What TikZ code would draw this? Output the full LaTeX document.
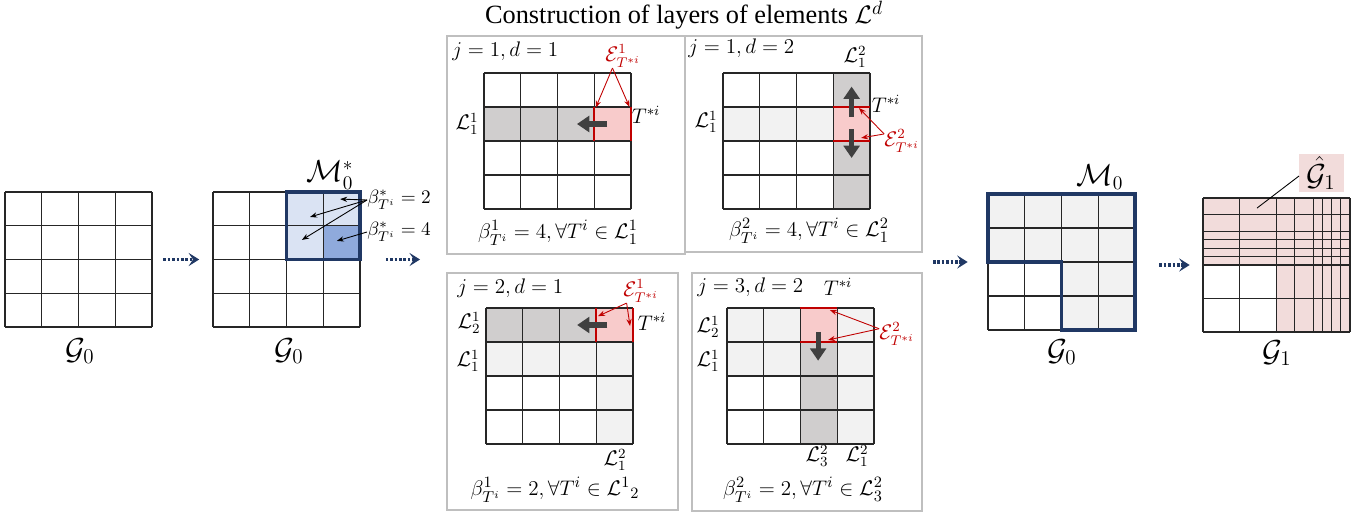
\documentclass[tikz,border=0pt]{standalone}
\usepackage{amsmath,amssymb}
\usepackage{fontspec}
\setmainfont{Liberation Serif}
\usepackage{tikz}
\usetikzlibrary{
  arrows.meta,
  positioning,
  calc
}
\definecolor{navy}{RGB}{32,56,100}
\definecolor{cellgray}{RGB}{208,206,206}
\definecolor{cellpale}{RGB}{242,242,242}
\definecolor{cellpink}{RGB}{248,203,203}
\definecolor{gridpink}{RGB}{242,220,219}
\definecolor{bluepale}{RGB}{218,227,243}
\definecolor{bluemid}{RGB}{143,170,220}
\definecolor{errred}{RGB}{192,0,0}
\definecolor{pushgray}{RGB}{64,64,64}
\definecolor{boxgray}{RGB}{191,191,191}

\begin{document}
\begin{tikzpicture}[x=0.02cm, y=-0.02cm,
  gl/.style={draw=black!85, line width=0.6pt},
  panel/.style={draw=boxgray, line width=0.9pt},
  gridbox/.style={minimum width=2.94cm, minimum height=2.7cm, inner sep=0pt},
  flow/.style={draw=navy, line width=2.2pt, dash pattern=on 1.5pt off 1pt, -{Stealth[length=6pt, width=7.5pt, inset=2.5pt]}},
  push/.style={draw=pushgray, line width=3pt, -{Triangle[length=7pt, width=9pt]}},
  redge/.style={draw=errred, line width=1.4pt},
  rptr/.style={draw=errred, line width=0.5pt, -{Stealth[length=4pt, width=3pt]}},
  bptr/.style={draw=black, line width=0.5pt, -{Stealth[length=4pt, width=3pt]}},
  lbl/.style={inner sep=0pt, font=\fontsize{12}{14}\selectfont},
  small/.style={inner sep=0pt, font=\fontsize{11}{13}\selectfont},
  formula/.style={inner sep=0pt, font=\fontsize{13}{15}\selectfont},
  mlbl/.style={inner sep=0pt, font=\fontsize{16}{18}\selectfont},
  big/.style={inner sep=0pt, font=\fontsize{18}{20}\selectfont}
]
  \useasboundingbox (0,0) rectangle (1368,518);

  % initial grid
  \begin{scope}[shift={(5,192)}, x=0.735cm, y=-0.675cm]
    \foreach \k in {0,...,4} {\draw[gl] (\k,0) -- (\k,4); \draw[gl] (0,\k) -- (4,\k);}
  \end{scope}
  \node[gridbox] (gA) at (78.5,259.5) {};
  \node[big] (gAl) at (80,351) {$\mathcal{G}_0$};

  % grid with M0*
  \begin{scope}[shift={(213,192)}, x=0.735cm, y=-0.675cm]
    \fill[bluepale] (2,0) rectangle (4,2);
    \fill[bluemid] (3,1) rectangle (4,2);
    \foreach \k in {0,...,4} {\draw[gl] (\k,0) -- (\k,4); \draw[gl] (0,\k) -- (4,\k);}
    \draw[navy, line width=2pt] (2,0) rectangle (4,2);
    \coordinate (bc1) at (3.46,0.21);
    \coordinate (bc2) at (2.64,0.74);
    \coordinate (bc3) at (2.42,1.42);
    \coordinate (bc4) at (3.37,1.45);
  \end{scope}
  \node[gridbox] (gB) at (286,259.5) {};
  \node[big] (gBl) at (289,351) {$\mathcal{G}_0$};
  \node[mlbl] (mstar) at (330,175) {$\mathcal{M}^{*}_{0}$};
  \node[small, anchor=west] (bt2) at (367,200) {$\beta^{*}_{T^i}=2$};
  \node[small, anchor=west] (bt4) at (367,232) {$\beta^{*}_{T^i}=4$};
  \draw[bptr] (bt2.west) -- (bc1);
  \draw[bptr] (bt2.west) -- (bc2);
  \draw[bptr] (bt2.west) -- (bc3);
  \draw[bptr] (bt4.west) -- (bc4);

  % layers
  \node[font=\fontsize{15}{18}\selectfont, inner sep=0pt] (title) at (684,15) {Construction of layers of elements $\mathcal{L}^d$};
  \draw[panel] (447,36) rectangle (685,254);
  \draw[panel] (685,36) rectangle (922,252);
  \draw[panel] (447,273) rectangle (678,510);
  \draw[panel] (692,273) rectangle (922,511);
  \coordinate (pin) at (447,259.5);
  \coordinate (pout) at (922,262);

  % j=1, d=1
  \begin{scope}[shift={(484,73)}, x=0.735cm, y=-0.68cm]
    \fill[cellgray] (0,1) rectangle (3,2);
    \fill[cellpink] (3,1) rectangle (4,2);
    \foreach \k in {0,...,4} {\draw[gl] (\k,0) -- (\k,4); \draw[gl] (0,\k) -- (4,\k);}
    \draw[redge] (3,1) -- (3,2) (4,1) -- (4,2);
    \draw[push] (3.35,1.5) -- (2.53,1.5);
    \coordinate (ea1) at (3.04,1.02);
    \coordinate (ea2) at (3.96,1.0);
  \end{scope}
  \node[lbl, anchor=west] (ja) at (452,51) {$j=1,d=1$};
  \node[lbl, text=errred] (epsa) at (623,56) {$\mathcal{E}^{1}_{T^{*i}}$};
  \draw[rptr] ([xshift=-6pt]epsa.south) -- (ea1);
  \draw[rptr] ([xshift=-6pt]epsa.south) -- (ea2);
  \node[lbl] (la) at (467,124) {$\mathcal{L}^{1}_{1}$};
  \node[lbl] (ta) at (646,115) {$T^{*i}$};
  \node[formula] (fa) at (558,233) {$\beta^{1}_{T^i}=4,\forall T^i\in\mathcal{L}^{1}_{1}$};

  % j=1, d=2
  \begin{scope}[shift={(723,73)}, x=0.735cm, y=-0.68cm]
    \fill[cellgray] (3,0) rectangle (4,4);
    \fill[cellpale] (0,1) rectangle (3,2);
    \fill[cellpink] (3,1) rectangle (4,2);
    \foreach \k in {0,...,4} {\draw[gl] (\k,0) -- (\k,4); \draw[gl] (0,\k) -- (4,\k);}
    \draw[redge] (3,1) -- (4,1) (3,2) -- (4,2);
    \draw[push] (3.5,1.28) -- (3.5,0.4);
    \draw[push] (3.5,1.65) -- (3.5,2.5);
    \coordinate (eb1) at (3.7,1.03);
    \coordinate (eb2) at (3.76,1.91);
  \end{scope}
  \node[lbl, anchor=west] (jb) at (688,48) {$j=1,d=2$};
  \node[lbl, text=errred] (epsb) at (902,141) {$\mathcal{E}^{2}_{T^{*i}}$};
  \draw[rptr] ([yshift=4pt]epsb.west) -- (eb1);
  \draw[rptr] ([yshift=4pt]epsb.west) -- (eb2);
  \node[lbl] (lb2) at (855,57) {$\mathcal{L}^{2}_{1}$};
  \node[lbl] (lb1) at (706,122) {$\mathcal{L}^{1}_{1}$};
  \node[lbl] (tb) at (886,104) {$T^{*i}$};
  \node[formula] (fb) at (809,231) {$\beta^{2}_{T^i}=4,\forall T^i\in\mathcal{L}^{2}_{1}$};

  % j=2, d=1
  \begin{scope}[shift={(486,308)}, x=0.735cm, y=-0.68cm]
    \fill[cellgray] (0,0) rectangle (3,1);
    \fill[cellpink] (3,0) rectangle (4,1);
    \fill[cellpale] (0,1) rectangle (4,2);
    \fill[cellpale] (3,2) rectangle (4,4);
    \foreach \k in {0,...,4} {\draw[gl] (\k,0) -- (\k,4); \draw[gl] (0,\k) -- (4,\k);}
    \draw[redge] (3,0) -- (3,1) (4,0) -- (4,1);
    \draw[push] (3.3,0.5) -- (2.48,0.5);
    \coordinate (ec1) at (3.05,0.24);
    \coordinate (ec2) at (3.92,0.53);
  \end{scope}
  \node[lbl, anchor=west] (jc) at (457,288) {$j=2,d=1$};
  \node[lbl, text=errred] (epsc) at (641,291) {$\mathcal{E}^{1}_{T^{*i}}$};
  \draw[rptr] ([xshift=2pt]epsc.south west) -- (ec1);
  \draw[rptr] ([xshift=2pt]epsc.south west) -- (ec2);
  \node[lbl] (lc2) at (469,323) {$\mathcal{L}^{1}_{2}$};
  \node[lbl] (lc1) at (468,361) {$\mathcal{L}^{1}_{1}$};
  \node[lbl] (lc3) at (615,460) {$\mathcal{L}^{2}_{1}$};
  \node[lbl] (tc) at (652,322) {$T^{*i}$};
  \node[formula] (fc) at (555,490) {$\beta^{1}_{T^i}=2,\forall T^i\in\mathcal{L}^{1}{}_{2}$};

  % j=3, d=2
  \begin{scope}[shift={(727,308)}, x=0.735cm, y=-0.68cm]
    \fill[cellpale] (0,0) rectangle (2,2);
    \fill[cellpale] (3,0) rectangle (4,4);
    \fill[cellgray] (2,1) rectangle (3,4);
    \fill[cellpink] (2,0) rectangle (3,1);
    \foreach \k in {0,...,4} {\draw[gl] (\k,0) -- (\k,4); \draw[gl] (0,\k) -- (4,\k);}
    \draw[redge] (2,0) -- (3,0) (2,1) -- (3,1);
    \draw[push] (2.48,0.7) -- (2.48,1.55);
    \coordinate (ed1) at (2.8,0.06);
    \coordinate (ed2) at (2.75,0.94);
  \end{scope}
  \node[lbl, anchor=west] (jd) at (697,287) {$j=3,d=2$};
  \node[lbl, text=errred] (epsd) at (897,334) {$\mathcal{E}^{2}_{T^{*i}}$};
  \draw[rptr] ([yshift=3pt]epsd.west) -- (ed1);
  \draw[rptr] ([yshift=3pt]epsd.west) -- (ed2);
  \node[lbl] (ld2) at (708,327) {$\mathcal{L}^{1}_{2}$};
  \node[lbl] (ld1) at (708,361) {$\mathcal{L}^{1}_{1}$};
  \node[lbl] (ld3) at (817,456) {$\mathcal{L}^{2}_{3}$};
  \node[lbl] (ld4) at (857,456) {$\mathcal{L}^{2}_{1}$};
  \node[lbl] (td) at (838,287) {$T^{*i}$};
  \node[formula] (fd) at (803,490) {$\beta^{2}_{T^i}=2,\forall T^i\in\mathcal{L}^{2}_{3}$};

  % grid with M0
  \begin{scope}[shift={(988,194)}, x=0.735cm, y=-0.68cm]
    \fill[cellpale] (0,0) rectangle (4,2);
    \fill[cellpale] (2,2) rectangle (4,4);
    \foreach \k in {0,...,4} {\draw[gl] (\k,0) -- (\k,4); \draw[gl] (0,\k) -- (4,\k);}
    \draw[navy, line width=2pt] (0,0) -- (4,0) -- (4,4) -- (2,4) -- (2,2) -- (0,2) -- cycle;
  \end{scope}
  \node[gridbox] (gC) at (1061.5,262) {};
  \node[mlbl] (mzero) at (1100,177) {$\mathcal{M}_{0}$};
  \node[big] (gCl) at (1062,352) {$\mathcal{G}_0$};

  % refined grid G1
  \begin{scope}[shift={(1203,198)}, x=0.735cm, y=-0.67cm]
    \fill[gridpink] (0,0) rectangle (4,2);
    \fill[gridpink] (2,2) rectangle (4,4);
    \foreach \k in {0,1,2,2.5,3,3.25,3.5,3.75,4} \draw[gl] (\k,0) -- (\k,4);
    \foreach \k in {0,0.5,1,1.25,1.5,1.75,2,3,4} \draw[gl] (0,\k) -- (4,\k);
    \coordinate (ghp) at (1.47,0.3);
  \end{scope}
  \node[gridbox] (gD) at (1276.5,265) {};
  \fill[gridpink] (1299,154) rectangle (1344,192);
  \node[big] (ghat) at (1321,173) {$\hat{\mathcal{G}}_1$};
  \draw[line width=0.5pt] (1299,176) -- (ghp);
  \node[big] (gDl) at (1277,353) {$\mathcal{G}_1$};

  % flow arrows
  \draw[flow, shorten <=0.22cm, shorten >=0.26cm] (gA.east) -- (gB.west);
  \draw[flow, shorten <=0.52cm, shorten >=0.54cm] (gB.east) -- (pin);
  \draw[flow, shorten <=0.22cm, shorten >=0.4cm] (pout) -- (gC.west);
  \draw[flow, shorten <=0.48cm, shorten >=0.26cm] (gC.east |- gD.west) -- (gD.west);
\end{tikzpicture}
\end{document}
